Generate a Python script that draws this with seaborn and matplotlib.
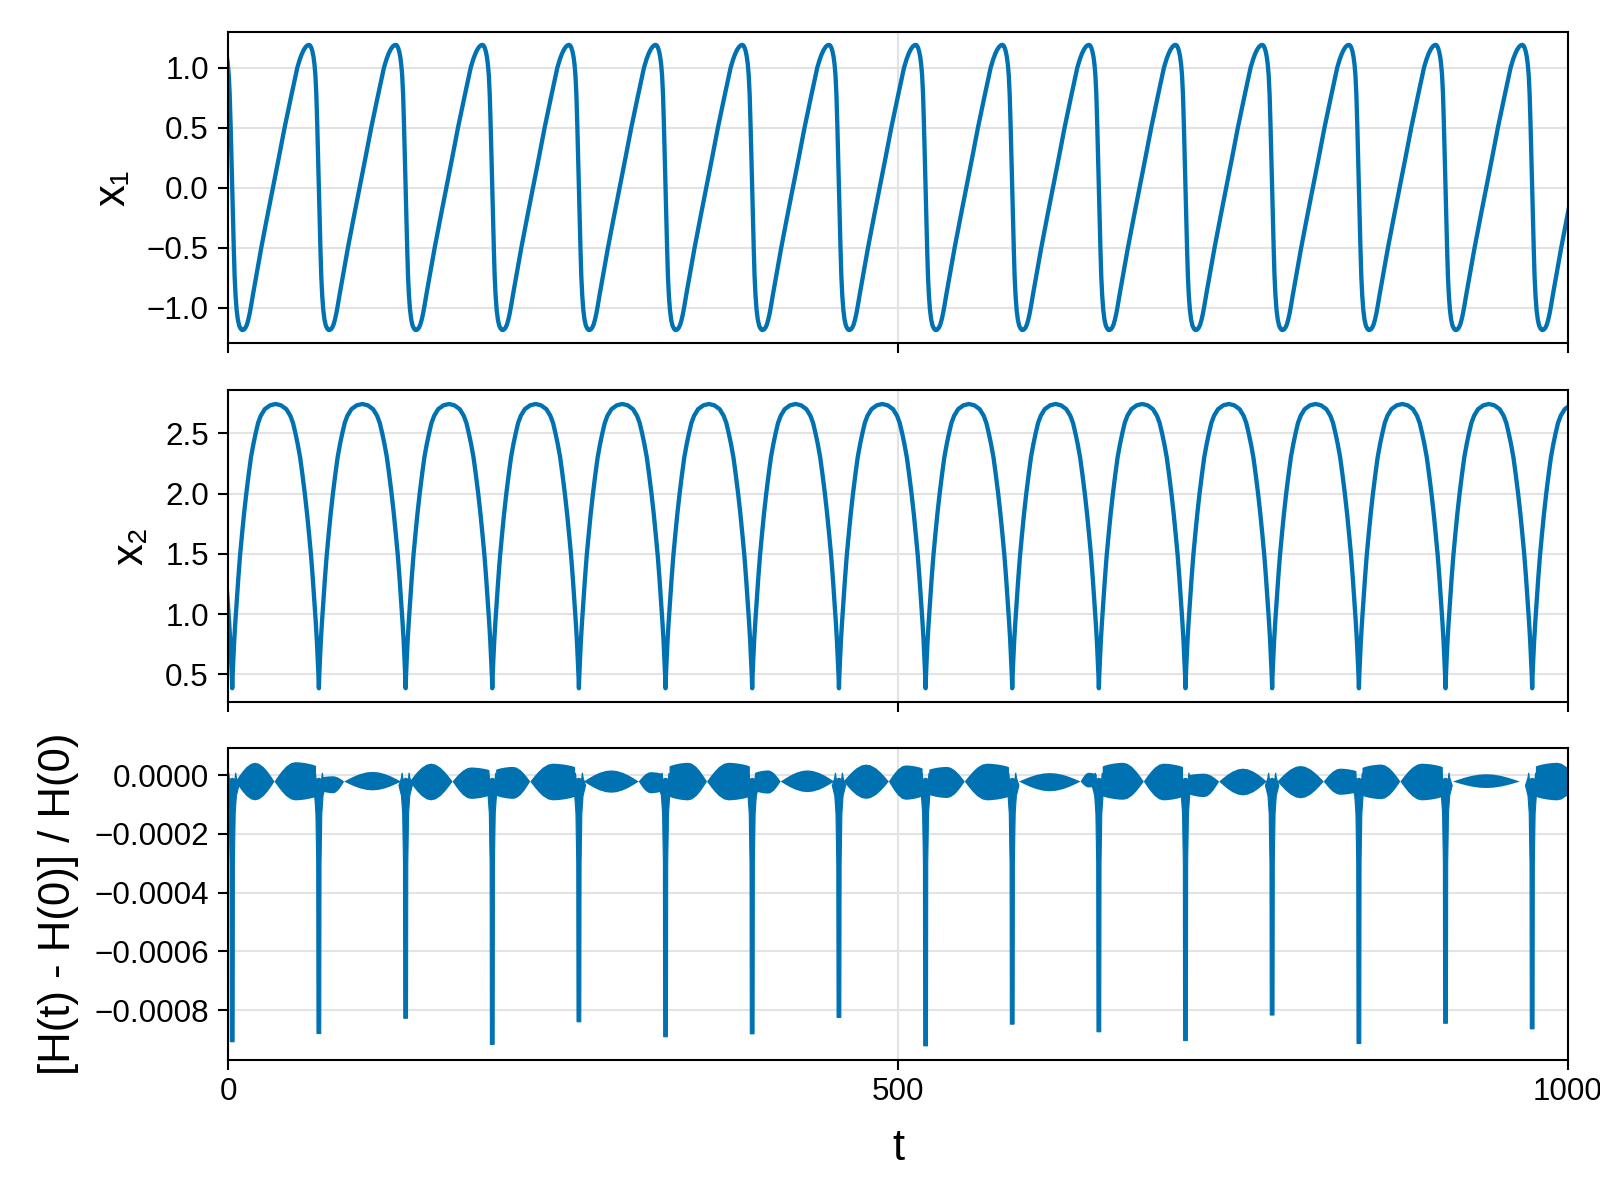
import numpy as np
import pandas as pd
import matplotlib
matplotlib.use("Agg")
import matplotlib.pyplot as plt
from matplotlib.ticker import FuncFormatter
import seaborn as sns

# times of the fast drops (x1 falls, x2 hits its cusp, energy error spikes)
spike_t = [2.8, 67.5, 132.3, 197.0, 261.7, 326.4, 391.1, 455.9,
           520.6, 585.3, 650.0, 714.7, 779.4, 844.2, 908.9, 973.6]
# depth of each energy-error spike, in units of 1e-5
spike_depth = [-90.8, -88.0, -82.8, -91.7, -84.0, -89.1, -88.1, -82.5,
               -92.2, -84.8, -87.4, -90.4, -81.7, -91.4, -84.5, -86.4]

# one period of x1, offsets from the drop time (peak -> peak)
x1_off = [-7.4, -6.5, -5.6, -4.8, -4.0, -3.3, -2.6, -1.9, -1.2, -0.6, 0.0,
          0.6, 1.2, 1.8, 2.5, 3.3, 4.2, 5.2, 6.3, 7.2, 8.0,
          9.0, 10.0, 11.0, 12.0, 13.0, 14.0, 15.5, 21.7, 26.0, 30.4, 34.8,
          39.1, 43.8, 48.6, 50.5, 52.0, 53.5, 55.0, 56.3]
x1_val = [1.19, 1.185, 1.165, 1.135, 1.09, 1.03, 0.94, 0.78, 0.52, 0.26, 0.0,
          -0.27, -0.52, -0.74, -0.90, -1.02, -1.10, -1.15, -1.175, -1.185, -1.186,
          -1.18, -1.165, -1.14, -1.10, -1.05, -0.99, -0.89, -0.50, -0.25, 0.0, 0.25,
          0.50, 0.75, 1.0, 1.07, 1.115, 1.15, 1.175, 1.187]

# one period of x2 (peak -> peak), offsets from the cusp
x2_off = [-32.3, -28.3, -24.3, -21.3, -19.3, -17.5, -15.8, -14.0, -12.3, -10.5,
          -8.8, -7.3, -5.8, -4.5, -3.3, -2.3, -1.5, -0.8, -0.3, 0.0,
          0.3, 0.8, 1.5, 2.3, 3.3, 4.5, 5.8, 7.3, 8.8, 10.5,
          12.3, 14.0, 15.8, 17.5, 19.3, 21.3, 24.3, 28.3]
x2_val = [2.743, 2.732, 2.70, 2.645, 2.585, 2.5, 2.41, 2.30, 2.16, 2.0,
          1.83, 1.66, 1.48, 1.29, 1.10, 0.93, 0.78, 0.62, 0.49, 0.384,
          0.49, 0.62, 0.78, 0.93, 1.10, 1.29, 1.48, 1.66, 1.83, 2.0,
          2.16, 2.30, 2.41, 2.5, 2.585, 2.645, 2.70, 2.732]

# beating band of the energy error: lobe start/end, upper/lower edge (1e-5)
# cut: 0 = closes at both ends, 1 = runs into the next spike, -1 = starts wide
lobe_t0 = [5.0, 34.0, 69.5, 86.0, 135.0, 167.0, 199.5, 225.0, 265.0, 306.0,
           329.0, 357.0, 393.5, 412.0, 459.0, 492.8, 523.0, 549.5, 590.0, 636.0,
           652.5, 683.2, 717.0, 739.5, 783.0, 817.6, 846.5, 874.8, 914.0, 976.0]
lobe_t1 = [34.0, 65.0, 86.0, 128.5, 167.0, 194.5, 225.0, 258.5, 306.0, 324.0,
           357.0, 389.0, 412.0, 452.0, 492.8, 518.0, 549.5, 582.5, 636.0, 648.0,
           683.2, 712.5, 739.5, 775.0, 817.6, 842.0, 874.8, 906.5, 964.0, 1008.0]
lobe_hi = [4.4, 4.6, -0.2, 1.3, 4.1, 2.8, 3.0, 4.1, 1.8, 1.2,
           4.4, 4.4, 1.8, 1.8, 3.8, 3.5, 3.0, 4.1, 0.9, 1.0,
           4.4, 4.1, 0.7, 2.4, 3.3, 2.4, 3.8, 4.1, 0.5, 4.4]
lobe_lo = [-8.4, -8.4, -6.0, -5.0, -8.4, -7.9, -7.9, -8.4, -5.8, -6.0,
           -8.4, -8.4, -6.1, -5.6, -7.9, -8.2, -7.6, -8.4, -5.3, -4.0,
           -8.2, -8.4, -7.3, -6.7, -7.7, -6.5, -8.0, -8.4, -4.2, -8.4]
lobe_cut = [0, 1, -1, 0, 0, 1, -1, 1, 0, 1,
            -1, 1, -1, 0, 0, 1, -1, 1, 0, 1,
            -1, 1, -1, 0, 0, 1, -1, 1, 0, -1]

SCALE = 1e-5
NODE = -2.0
BLUE = "#0072B2"
GRID = "#e3e3e3"

# shape of a lobe and of a spike (drawing templates)
lobe_s = np.array([0, .04, .1, .18, .28, .4, .5, .6, .72, .82, .9, .96, 1])
lobe_w = np.array([0, .125, .309, .536, .771, .951, 1, .951, .771, .536, .309, .125, 0])
lobe_w_cut = np.array([0, .125, .309, .536, .771, .951, 1, .99, .96, .92, .88, .84, .8])
spike_dx = np.array([-5.0, -3.2, -2.6, -2.0, 0.0, 2.0, 2.6, 3.2, 5.0,
                     3.1, 2.2, 1.6, 1.4, -1.4, -1.6, -2.2, -3.1])
spike_top = [-3.5, -1.0, 0.8, -1.5, -1.0, -1.5, 0.8, -1.0, -3.5, -7.0, -13.0, -30.0]
spike_side = [-30.0, -13.0, -7.0]

# build the two state series
df1 = pd.DataFrame({
    "t": np.concatenate([ts + np.array(x1_off) for ts in spike_t]),
    "x1": np.tile(x1_val, len(spike_t)),
})
df2 = pd.DataFrame({
    "t": np.concatenate([ts + np.array(x2_off) for ts in spike_t]),
    "x2": np.tile(x2_val, len(spike_t)),
})

sns.set_theme(style="white")
plt.rcParams["font.family"] = ["Liberation Sans", "DejaVu Sans"]
plt.rcParams["axes.unicode_minus"] = True

fig = plt.figure(figsize=(8, 6), dpi=200)
boxes = [(0.7142, 0.2594), (0.4153, 0.2598), (0.1167, 0.2603)]
axes = [fig.add_axes([0.1428, b, 0.8369, h]) for b, h in boxes]

sns.lineplot(data=df1, x="t", y="x1", ax=axes[0], color=BLUE, linewidth=1.55,
             estimator=None, sort=False)
sns.lineplot(data=df2, x="t", y="x2", ax=axes[1], color=BLUE, linewidth=1.55,
             estimator=None, sort=False)

ax = axes[2]
for t0, t1, hi, lo, cut in zip(lobe_t0, lobe_t1, lobe_hi, lobe_lo, lobe_cut):
    w = lobe_w if cut == 0 else (lobe_w_cut if cut == 1 else lobe_w_cut[::-1])
    tt = t0 + (t1 - t0) * lobe_s
    ax.fill_between(tt, (NODE + (lo - NODE) * w) * SCALE, (NODE + (hi - NODE) * w) * SCALE,
                    color=BLUE, linewidth=0)
for ts, d in zip(spike_t, spike_depth):
    vals = np.array(spike_top + [d, d] + spike_side) * SCALE
    ax.fill(ts + spike_dx, vals, color=BLUE, linewidth=0.4, edgecolor=BLUE)

ylims = [(-1.294, 1.30), (0.273, 2.86), (-0.00097, 0.000094)]
yticks = [[-1.0, -0.5, 0.0, 0.5, 1.0], [0.5, 1.0, 1.5, 2.0, 2.5],
          [-0.0008, -0.0006, -0.0004, -0.0002, 0.0]]
fmts = ["{:.1f}", "{:.1f}", "{:.4f}"]
labels = ["x₁", "x₂", "[H(t) - H(0)] / H(0)"]
label_x = [-0.0863, -0.0728, -0.1266]

for i, a in enumerate(axes):
    a.set_xlim(0, 1000)
    a.set_ylim(*ylims[i])
    a.set_xticks([0, 500, 1000])
    a.set_yticks(yticks[i])
    f = fmts[i]
    a.yaxis.set_major_formatter(FuncFormatter(lambda v, p, f=f: f.format(v).replace("-", "\u2212")))
    for s in a.spines.values():
        s.set_color("black")
        s.set_linewidth(0.75)
    a.tick_params(axis="both", which="major", direction="out", length=3.6, width=0.75,
                  color="black", labelsize=11.3, labelcolor="black",
                  bottom=True, left=True, top=False, right=False)
    a.tick_params(axis="y", pad=3.5)
    a.tick_params(axis="x", pad=2.5)
    a.grid(True, color=GRID, linewidth=0.75)
    a.set_axisbelow(True)
    a.set_ylabel(labels[i], fontsize=15.7, color="black", va="center")
    a.yaxis.set_label_coords(label_x[i], 0.5)
    if i < 2:
        a.set_xlabel("")
        a.tick_params(axis="x", labelbottom=False)

axes[2].set_xlabel("t", fontsize=15.7, color="black", va="center")
axes[2].xaxis.set_label_coords(0.5, -0.282)

fig.savefig("out.png", dpi=200, facecolor="white")
